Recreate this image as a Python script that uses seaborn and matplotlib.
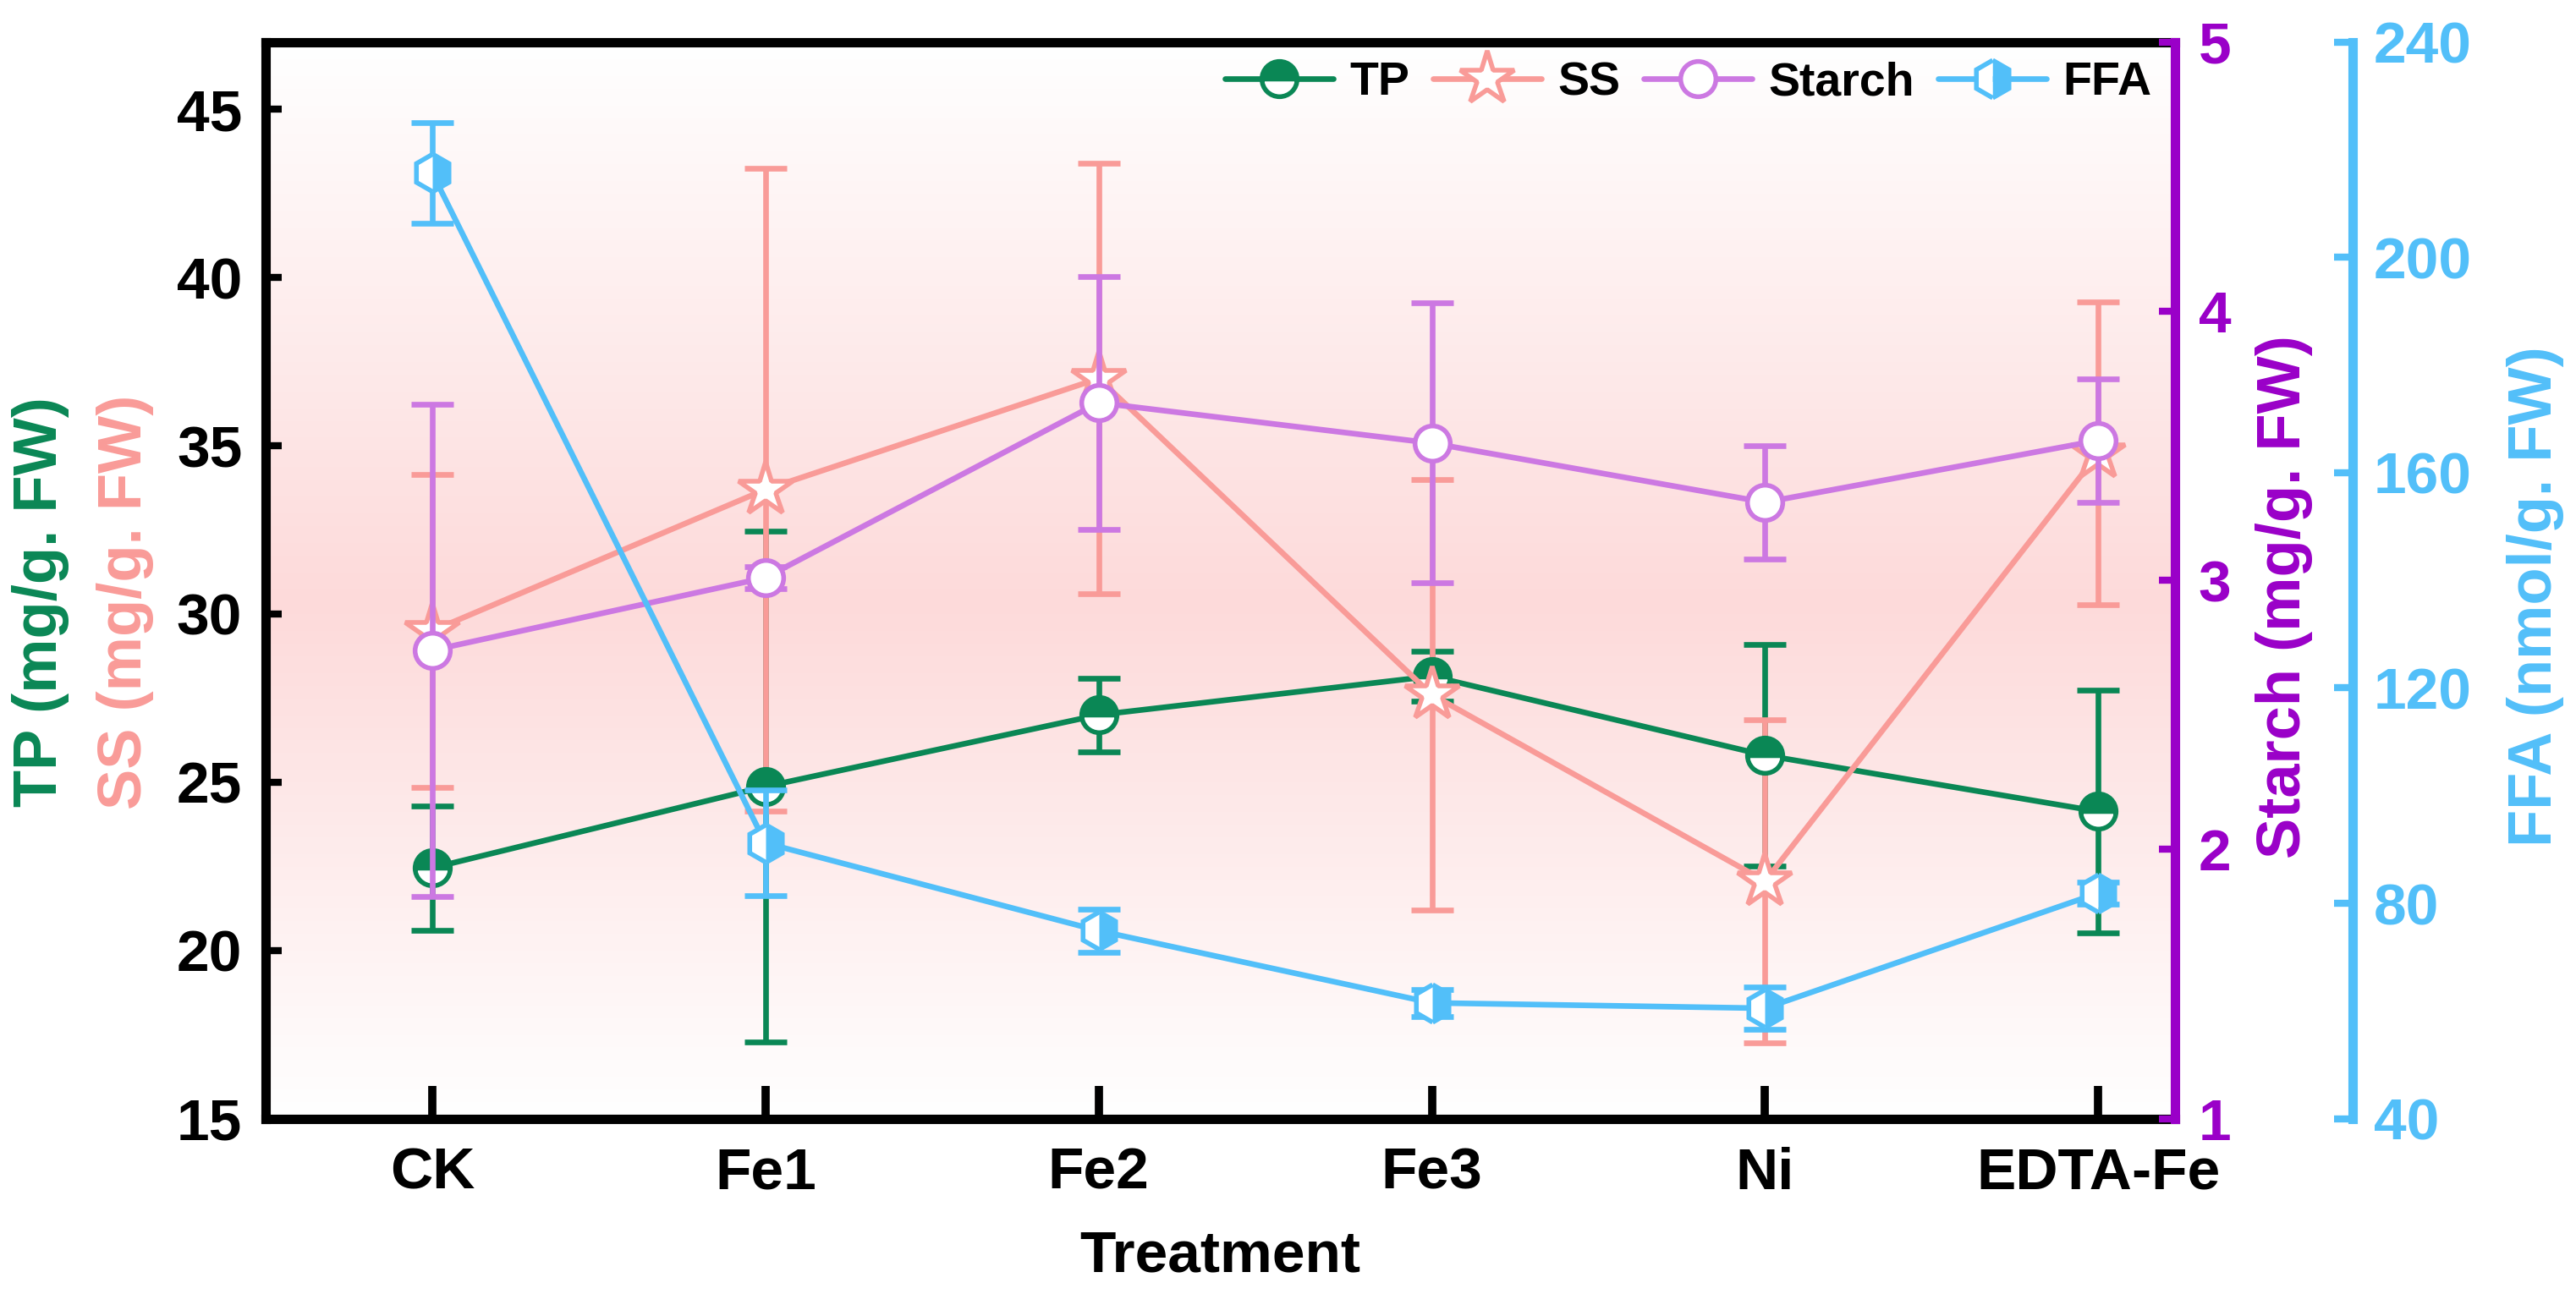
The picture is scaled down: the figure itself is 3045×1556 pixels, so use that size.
import numpy as np
import pandas as pd
import matplotlib
matplotlib.use("Agg")
import matplotlib.pyplot as plt
import seaborn as sns
from matplotlib.colors import LinearSegmentedColormap

# values
treatments = ["CK", "Fe1", "Fe2", "Fe3", "Ni", "EDTA-Fe"]
tp = [22.45, 24.87, 27.0, 28.15, 25.8, 24.13]
tp_err = [1.85, 7.6, 1.1, 0.75, 3.3, 3.6]
ss = [29.5, 33.7, 37.0, 27.6, 22.06, 34.77]
ss_err = [4.65, 9.55, 6.4, 6.4, 4.8, 4.5]
starch = [2.74, 3.01, 3.66, 3.51, 3.29, 3.52]
starch_err = [0.915, 0.04, 0.47, 0.52, 0.21, 0.23]
ffa = [215.7, 91.2, 74.9, 61.5, 60.5, 81.9]
ffa_err = [9.4, 9.8, 4.0, 2.5, 3.9, 2.0]

c_tp = "#0A8755"
c_ss = "#F99B98"
c_starch = "#CC78E2"
c_starch_ax = "#9A00C8"
c_ffa = "#52BFF9"

sns.set_theme(style="white")
plt.rcParams["font.family"] = ["Liberation Sans", "DejaVu Sans"]
plt.rcParams["font.weight"] = "bold"
plt.rcParams["axes.labelweight"] = "bold"
plt.rcParams["text.color"] = "black"
plt.rcParams["axes.labelcolor"] = "black"
plt.rcParams["xtick.color"] = "black"
plt.rcParams["ytick.color"] = "black"

df = pd.DataFrame({
    "pos": np.arange(len(treatments)),
    "TP": tp, "TP_err": tp_err,
    "SS": ss, "SS_err": ss_err,
    "Starch": starch, "Starch_err": starch_err,
    "FFA": ffa, "FFA_err": ffa_err,
})

fig = plt.figure(figsize=(15.225, 7.78), dpi=200)
ax = fig.add_axes([0.1031, 0.150, 0.7412, 0.818])

# pink band in the background
bg = LinearSegmentedColormap.from_list("bg", [(0, "#FFFFFF"), (0.48, "#FDDADA"), (1, "#FFFFFF")])
grad = np.linspace(0, 1, 256).reshape(-1, 1)
ax.imshow(grad, cmap=bg, aspect="auto", extent=(0, 1, 0, 1), origin="lower",
          transform=ax.transAxes, zorder=0)

ax2 = ax.twinx()
ax3 = ax.twinx()
ax3.spines["right"].set_position(("axes", 1.093))

lw = 2.4
err_kw = dict(fmt="none", elinewidth=lw, capsize=9, capthick=lw, zorder=3)

ax.errorbar(df["pos"], df["TP"], yerr=df["TP_err"], ecolor=c_tp, **err_kw)
ax.errorbar(df["pos"], df["SS"], yerr=df["SS_err"], ecolor=c_ss, **err_kw)
ax2.errorbar(df["pos"], df["Starch"], yerr=df["Starch_err"], ecolor=c_starch, **err_kw)
ax3.errorbar(df["pos"], df["FFA"], yerr=df["FFA_err"], ecolor=c_ffa, **err_kw)

sns.lineplot(data=df, x="pos", y="TP", ax=ax, color=c_tp, lw=lw, marker="o", markersize=15,
             fillstyle="top", markerfacecoloralt="white", markeredgecolor=c_tp,
             markeredgewidth=2, label="TP", zorder=5)
sns.lineplot(data=df, x="pos", y="SS", ax=ax, color=c_ss, lw=lw, marker="*", markersize=24,
             markerfacecolor="white", markeredgecolor=c_ss, markeredgewidth=2,
             label="SS", zorder=5)
sns.lineplot(data=df, x="pos", y="Starch", ax=ax2, color=c_starch, lw=lw, marker="o", markersize=15,
             markerfacecolor="white", markeredgecolor=c_starch, markeredgewidth=2,
             label="Starch", zorder=5)
sns.lineplot(data=df, x="pos", y="FFA", ax=ax3, color=c_ffa, lw=lw, marker="h", markersize=16,
             fillstyle="right", markerfacecoloralt="white", markeredgecolor=c_ffa,
             markeredgewidth=2, label="FFA", zorder=5)

# axis limits and ticks
ax.set_xlim(-0.5, 5.23)
ax.set_ylim(15, 47)
ax.set_yticks([15, 20, 25, 30, 35, 40, 45])
ax.set_xticks(df["pos"], treatments)
ax2.set_ylim(1, 5)
ax2.set_yticks([1, 2, 3, 4, 5])
ax3.set_ylim(40, 240)
ax3.set_yticks([40, 80, 120, 160, 200, 240])

ax.set_xlabel("Treatment", fontsize=25, labelpad=12, color="black")
ax.set_ylabel("")
ax2.set_ylabel("")
ax3.set_ylabel("")

ax.tick_params(axis="y", left=True, direction="in", length=7, width=3, labelsize=25, pad=10,
               colors="black")
ax.tick_params(axis="x", bottom=True, direction="in", length=14, width=3.5, labelsize=25, pad=12,
               colors="black")
ax2.tick_params(axis="y", right=True, direction="in", length=7, width=3, labelsize=25, pad=10,
                colors=c_starch_ax)
ax3.tick_params(axis="y", right=True, direction="in", length=8, width=3, labelsize=25, pad=9,
                colors=c_ffa)

# spines
for s in ["left", "bottom", "top"]:
    ax.spines[s].set_linewidth(4)
    ax.spines[s].set_color("black")
ax.spines["right"].set_visible(False)
for s in ["left", "bottom", "top"]:
    ax2.spines[s].set_visible(False)
    ax3.spines[s].set_visible(False)
ax2.spines["right"].set_linewidth(4)
ax2.spines["right"].set_color(c_starch_ax)
ax3.spines["right"].set_linewidth(4)
ax3.spines["right"].set_color(c_ffa)

# axis titles
ax.text(-0.118, 0.48, "TP (mg/g. FW)", color=c_tp, rotation=90, fontsize=26,
        ha="center", va="center", transform=ax.transAxes)
ax.text(-0.0735, 0.48, "SS (mg/g. FW)", color=c_ss, rotation=90, fontsize=26,
        ha="center", va="center", transform=ax.transAxes)
ax.text(1.057, 0.485, "Starch (mg/g. FW)", color=c_starch_ax, rotation=90, fontsize=26,
        ha="center", va="center", transform=ax.transAxes)
ax.text(1.189, 0.485, "FFA (nmol/g. FW)", color=c_ffa, rotation=90, fontsize=26,
        ha="center", va="center", transform=ax.transAxes)

# one legend for all four series
handles, labels = [], []
for a in (ax, ax2, ax3):
    h, l = a.get_legend_handles_labels()
    handles += h
    labels += l
    if a.get_legend() is not None:
        a.get_legend().remove()
ax3.legend(handles, labels, loc="upper right", bbox_to_anchor=(1.005, 1.013), ncol=4,
           frameon=False, fontsize=20, handlelength=2.3, handletextpad=0.35,
           columnspacing=0.5, borderaxespad=0.3)

fig.savefig("out.png", dpi=200)
